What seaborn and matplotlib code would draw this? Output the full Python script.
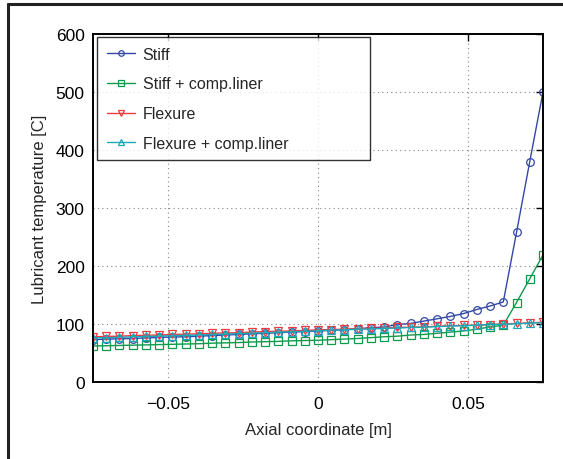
import numpy as np
import pandas as pd
import matplotlib
matplotlib.use("Agg")
import matplotlib.pyplot as plt
import seaborn as sns
from matplotlib.lines import Line2D

# axial grid: 35 nodes along the bearing
x = np.linspace(-0.075, 0.075, 35)

stiff = [73, 74, 74.5, 75, 76, 77, 77.5, 78, 79, 80, 81, 82, 83, 84, 85, 86, 87, 88,
         89, 90, 92, 93.5, 95, 99, 101, 105, 109, 113, 118, 125, 131, 138, 258, 380, 500]
stiff_liner = [62, 62.5, 63, 63.5, 64, 64.5, 65, 65.5, 66, 67, 67.5, 68, 69, 69.5, 70, 71, 71.5, 72,
               73, 74, 75, 76.5, 78, 79, 81, 82, 84, 86, 88, 91, 95, 98, 137, 178, 219]
flexure = [78, 78.5, 79, 80, 80.5, 81, 82, 82.5, 83, 84, 84.5, 85, 86, 87, 87.5, 88, 89, 90,
           90.5, 91, 92, 92.5, 93, 94, 94.5, 95, 96, 97, 97.5, 98, 99, 100, 101, 102, 103]
flexure_liner = [76, 76.5, 77, 78, 78.5, 79, 80, 80.5, 81, 82, 82.5, 83.5, 84, 85, 86, 86.5, 87.5, 88.5,
                 89.5, 90, 91, 91.5, 92.5, 93, 94, 94.5, 95.5, 96.5, 97, 98, 99, 99.5, 100.5, 101.5, 102.5]

labels = ["Stiff", "Stiff + comp.liner", "Flexure", "Flexure + comp.liner"]
colors = ["#3347a6", "#0f9a4c", "#ec3a3f", "#1aa9b9"]
markers = ["o", "s", "v", "^"]

sns.set_style("white")
plt.rcParams['font.family'] = ['Liberation Sans', 'DejaVu Sans']

fig = plt.figure(figsize=(5.63, 4.60), dpi=100)
ax = fig.add_axes([93/563, 1 - 383/460, 450/563, 348/460])

for lab, ys, c, m in zip(labels, [stiff, stiff_liner, flexure, flexure_liner], colors, markers):
    df = pd.DataFrame({"x": x, "y": ys})
    sns.lineplot(data=df, x="x", y="y", ax=ax, color=c, marker=m, markersize=5.5,
                 markerfacecolor="none", markeredgecolor=c, markeredgewidth=0.9,
                 linewidth=1.0, label=lab)

ax.set_xlim(-0.075, 0.075)
ax.set_ylim(0, 600)
ax.set_xticks([-0.05, 0, 0.05])
ax.set_xticklabels(["\u22120.05", "0", "0.05"])
ax.set_yticks(range(0, 601, 100))
ax.grid(True, linestyle=(0, (1, 3)), color="#888888", linewidth=0.8)
ax.tick_params(direction="in", length=5, width=1, top=True, right=True,
               labelsize=12.5, colors="black")
ax.tick_params(axis="x", pad=10)
ax.tick_params(axis="y", pad=6)
for s in ax.spines.values():
    s.set_color("black")
    s.set_linewidth(1.4)
ax.set_xlabel("Axial coordinate [m]", fontsize=12, labelpad=8)
ax.set_ylabel("Lubricant temperature [C]", fontsize=12, labelpad=6)

leg = ax.legend(loc="upper left", bbox_to_anchor=(0.009, 0.635, 0.607, 0.356), mode="expand",
                borderaxespad=0, fontsize=11.5, frameon=True, fancybox=False,
                handlelength=1.75, labelspacing=0.92, borderpad=0.6, handletextpad=0.5)
leg.get_frame().set_edgecolor("black")
leg.get_frame().set_linewidth(1.0)
for h in leg.get_lines():
    h.set_markersize(4)

# outer frame (left and top edges visible)
fig.add_artist(Line2D([8/563, 8/563], [0, 1 - 5/460], color="#222222", linewidth=2.2,
                      transform=fig.transFigure))
fig.add_artist(Line2D([8/563, 1], [1 - 5/460, 1 - 5/460], color="#222222", linewidth=2.2,
                      transform=fig.transFigure))

fig.savefig("out.png", dpi=100)
